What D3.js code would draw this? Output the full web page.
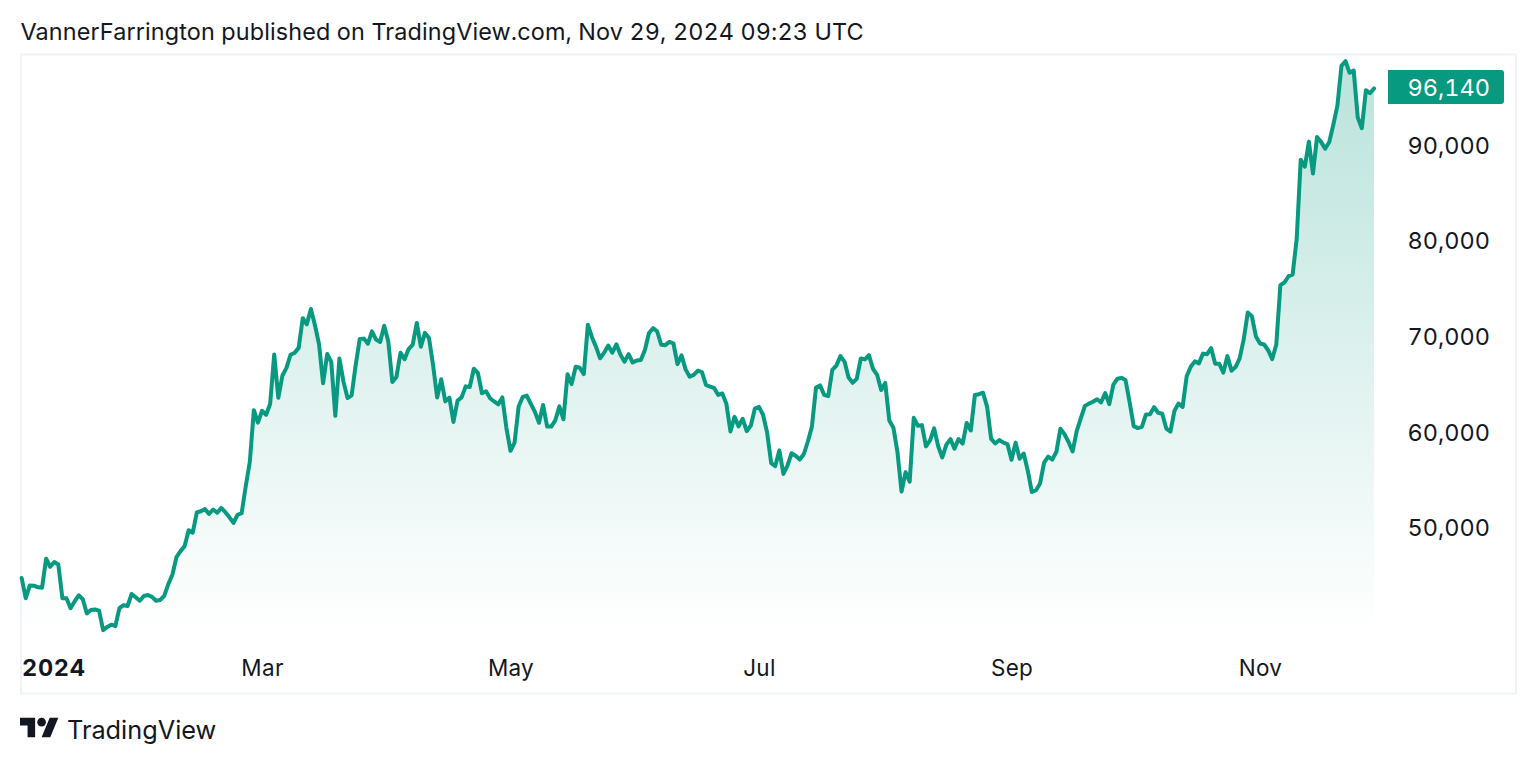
<!DOCTYPE html>
<html><head><meta charset="utf-8">
<script src="https://cdn.jsdelivr.net/npm/d3@7"></script>
<style>html,body{margin:0;padding:0;background:#fff}svg{display:block}text{font-family:Inter,"Noto Sans",sans-serif;fill:#131722;font-feature-settings:"tnum"}</style>
</head><body><svg id="c" width="1536" height="764"></svg>
<script>
const titleText="VannerFarrington published on TradingView.com, Nov 29, 2024 09:23 UTC";
const brandText="TradingView";
const startDate="2024-01-02";
const priceTicks=[50000,60000,70000,80000,90000];
const lastPriceLabel="96,140";
const timeTicks=[["2024-01-01","2024"],["2024-03-01","Mar"],["2024-05-01","May"],["2024-07-01","Jul"],["2024-09-01","Sep"],["2024-11-01","Nov"]];
const jan=[44957,42848,44179,44162,43989,43943,46970,46139,46627,46368,42853,42842,41796,42511,43154,42742,41262,41618,41665,41545,39507,39845,40077,39934,41816,42120,42035,43288,42952,42582];
const feb=[43075,43185,42992,42583,42658,43084,44318,45301,47147,47771,48293,49958,49699,51811,51938,52160,51663,52122,51779,52284,51839,51304,50731,51571,51733,54522,57085,62504,61198];
const mar=[62440,62029,63167,68330,63801,66106,66925,68300,68498,69019,72123,71481,73083,71396,69403,65315,68390,67548,61912,67913,65491,63778,64062,67234,69958,69987,69455,70744,69892,69645,71333];
const apr=[69702,65446,65980,68508,67837,68896,69362,71631,69139,70587,70060,67195,63821,65738,63426,63811,61276,63512,63843,64994,64926,66837,66408,64276,64481,63756,63419,63113,63841,60636];
const may=[58254,59123,62889,63892,64031,63161,62334,61187,63049,60793,60793,61448,62901,61553,66267,65232,67051,66940,66278,71448,70136,69122,67929,68526,69265,68518,69394,68296,67578,68364,67491];
const jun=[67706,67751,68804,70567,71082,70757,69342,69305,69649,69500,67321,68243,66747,66012,66191,66639,66490,65140,64960,64828,64096,64252,63180,60277,61804,60811,61604,60320,60887,62678];
const jul=[62851,62029,60173,56977,56662,58303,55849,56705,58009,57743,57344,57899,59231,60787,64870,65097,64118,63974,66710,67164,68154,67586,65927,65372,65777,67912,67813,68255,66819,66201,64619];
const aug=[65357,61415,60680,58116,53991,56034,55027,61710,60880,60945,58719,59354,60609,58737,57560,58894,59478,58483,59493,59012,61175,60381,64094,64178,64333,62880,59504,59027,59388,59119,58969];
const sep=[57325,59112,57431,57971,56160,53948,54139,54841,57019,57648,57343,58127,60571,60005,59182,58192,60308,61649,62940,63192,63394,63648,63329,64301,63143,65181,65790,65887,65635,63329];
const oct=[60837,60632,60759,62067,62089,62818,62236,62131,60582,60274,62445,63193,62851,66046,67041,67612,67399,68418,68362,69002,67367,67361,66432,68161,66642,67014,67929,69907,72720,72339,70215];
const nov=[69483,69374,68775,67850,69372,75571,75857,76510,76677,80370,88700,87955,90584,87250,91066,90558,89845,90542,92343,94339,98504,98997,97777,98014,93102,91985,95962,95653,96140];

const prices=[...jan,...feb,...mar,...apr,...may,...jun,...jul,...aug,...sep,...oct,...nov];
const t0=new Date(startDate+"T00:00:00Z");
const data=prices.map((v,i)=>({d:new Date(+t0+i*864e5),v}));
const green="#089981",ink="#131722",frame="#f0f3fa";
const x=d3.scaleUtc().domain([new Date("2024-03-01T00:00:00Z"),new Date("2024-11-01T00:00:00Z")]).range([262,1260]);
const y=d3.scaleLinear().domain([50000,90000]).range([529.8,147.2]);
const svg=d3.select("#c");
const defs=svg.append("defs");
const g=defs.append("linearGradient").attr("id","fill").attr("gradientUnits","userSpaceOnUse").attr("x1",0).attr("x2",0).attr("y1",y(d3.max(prices))).attr("y2",632);
g.append("stop").attr("offset",0).attr("stop-color",green).attr("stop-opacity",.28);
g.append("stop").attr("offset",1).attr("stop-color",green).attr("stop-opacity",0);
svg.append("rect").attr("x",21).attr("y",54.5).attr("width",1495).attr("height",639).attr("fill","none").attr("stroke",frame).attr("stroke-width",2);
svg.append("text").attr("x",20.5).attr("y",40).attr("font-size",23.4).attr("letter-spacing",.13).text(titleText);
svg.append("path").datum(data).attr("fill","url(#fill)").attr("d",d3.area().x(d=>x(d.d)).y0(632).y1(d=>y(d.v)));
svg.append("path").datum(data).attr("fill","none").attr("stroke",green).attr("stroke-width",4).attr("stroke-linejoin","round").attr("stroke-linecap","round").attr("d",d3.line().x(d=>x(d.d)).y(d=>y(d.v)));
const yAxis=d3.axisRight(y).tickValues(priceTicks).tickSize(0).tickPadding(0).tickFormat(d3.format(","));
const ya=svg.append("g").attr("transform","translate(1490,-2.6)").call(yAxis);
ya.select(".domain").remove();
ya.selectAll("text").attr("text-anchor","end").attr("font-size",23.5).attr("dy","0.36em").style("font-family",'Inter,"Noto Sans",sans-serif').style("fill",ink);
svg.append("path").attr("fill",green).attr("d",`M1388 70H1501a3 3 0 0 1 3 3V101a3 3 0 0 1 -3 3H1388Z`);
svg.append("text").attr("x",1490).attr("y",95.5).attr("text-anchor","end").attr("font-size",23.5).style("fill","#fff").text(lastPriceLabel);
const tickD=timeTicks.map(t=>new Date(t[0]+"T00:00:00Z"));
const xAxis=d3.axisBottom(x).tickValues(tickD.slice(1)).tickSize(0).tickPadding(0).tickFormat((d,i)=>timeTicks[i+1][1]);
const xa=svg.append("g").attr("transform","translate(0,660)").call(xAxis);
xa.select(".domain").remove();
xa.selectAll("text").attr("font-size",22.5).attr("letter-spacing",.3).attr("dy","0.71em").style("font-family",'Inter,"Noto Sans",sans-serif').style("fill",ink);
svg.append("text").attr("x",22).attr("y",676).attr("font-size",23.5).attr("font-weight",700).attr("letter-spacing",.7).text(timeTicks[0][1]);
const logo=svg.append("g").attr("transform","translate(20,713.5) scale(1.08)").attr("fill",ink);
logo.append("path").attr("d","M14 22H7V11H0V4h14v18zM28 22h-8l7.5-18h8L28 22z");
logo.append("circle").attr("cx",20).attr("cy",8).attr("r",4);
svg.append("text").attr("x",67).attr("y",739).attr("font-size",25.3).text(brandText);
</script></body></html>
